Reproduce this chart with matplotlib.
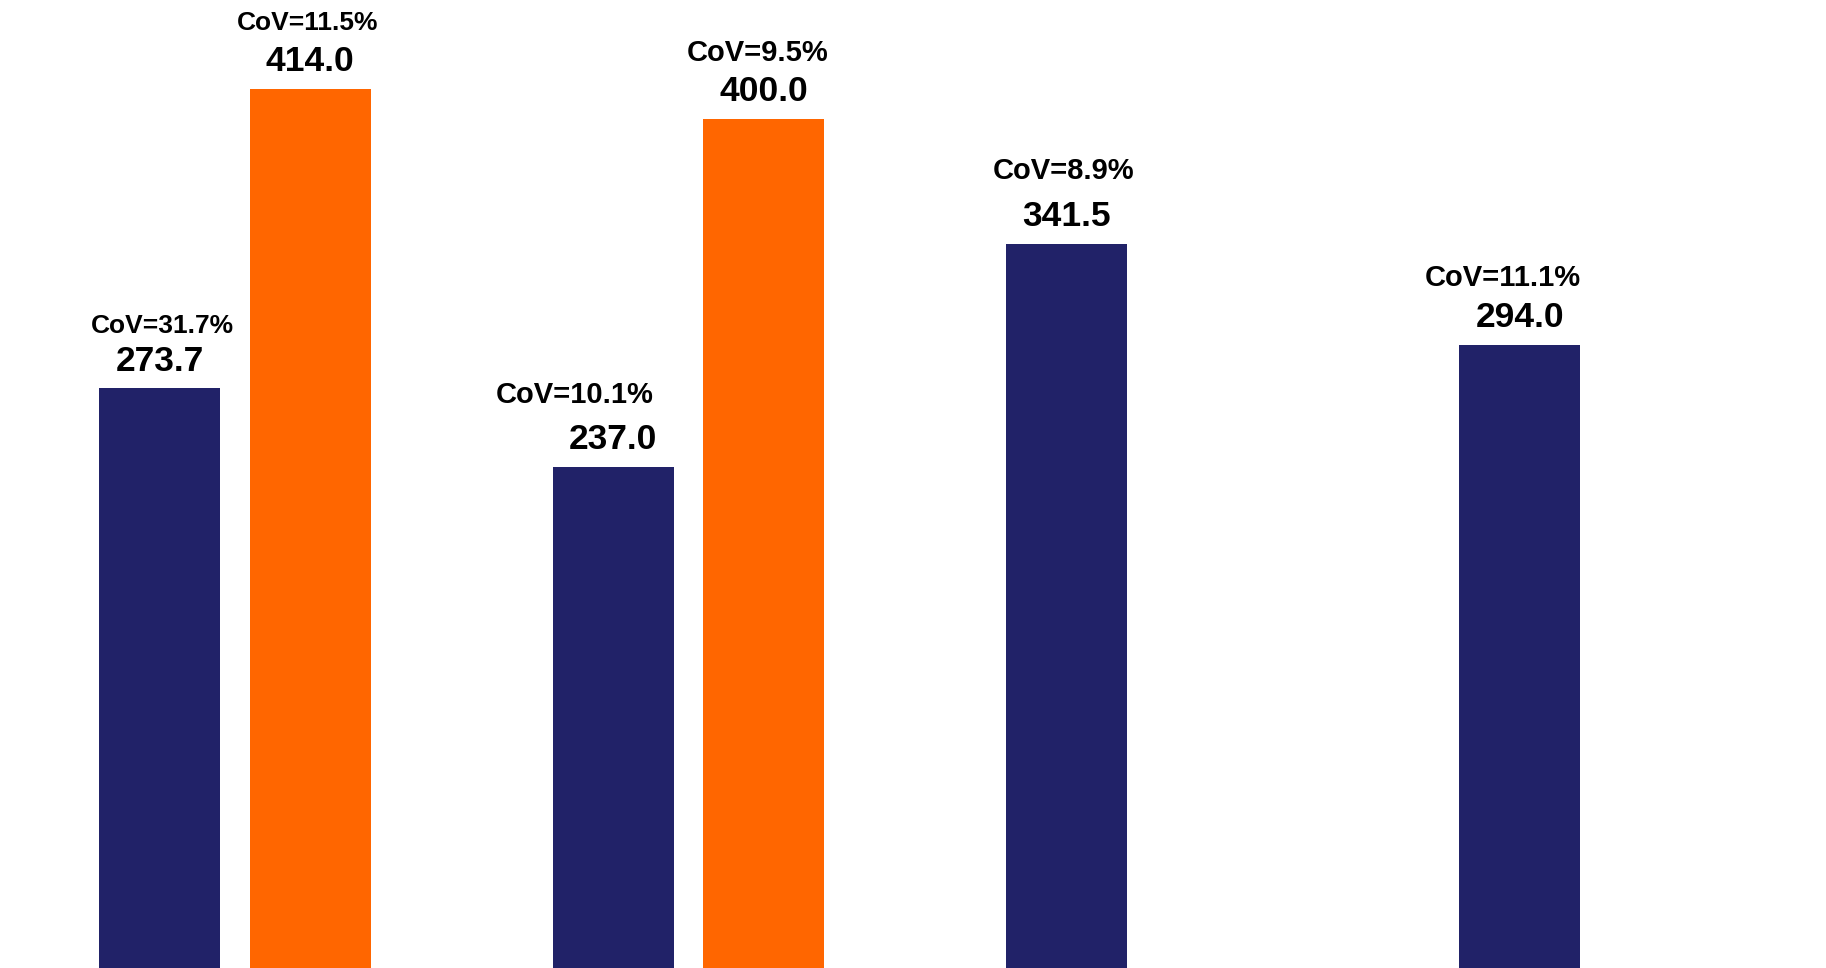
import matplotlib.pyplot as plt
import numpy as np

plt.rcParams['font.family'] = ['Liberation Sans', 'DejaVu Sans']

# data
navy_vals = [273.7, 237.0, 341.5, 294.0]
navy_cov = ['31.7%', '10.1%', '8.9%', '11.1%']
orange_vals = [414.0, 400.0]
orange_cov = ['11.5%', '9.5%']

# label placement tweaks (pixels): cov dx, cov dy, value dy, cov font size
navy_lab = [(3, 62, 27, 19), (-38, 72, 27, 21), (-3, 73, 27, 21), (-17, 67, 27, 21)]
orange_lab = [(-3, 66, 27, 19), (-6, 66, 27, 21)]

navy = '#212268'
orange = '#ff6600'
off = 0.166
w = 0.267

fig = plt.figure(figsize=(18.26, 9.68), dpi=100)
ax = fig.add_axes([0, 0, 1, 1])

xn = np.arange(len(navy_vals)) - off
xo = np.arange(len(orange_vals)) + off
ax.bar(xn, navy_vals, width=w, color=navy)
ax.bar(xo, orange_vals, width=w, color=orange)

def label(x, v, cov, lab):
    dx, dy_cov, dy_val, fs = lab
    ax.annotate(f'{v:.1f}', (x, v), xytext=(0, dy_val), textcoords='offset pixels',
                ha='center', va='center', fontsize=25.5, fontweight='bold')
    ax.annotate(f'CoV={cov}', (x, v), xytext=(dx, dy_cov), textcoords='offset pixels',
                ha='center', va='center', fontsize=fs, fontweight='bold')

for x, v, c, l in zip(xn, navy_vals, navy_cov, navy_lab):
    label(x, v, c, l)
for x, v, c, l in zip(xo, orange_vals, orange_cov, orange_lab):
    label(x, v, c, l)

ax.set_xlim(-0.518, 3.509)
ax.set_ylim(1.9, 455.7)
ax.axis('off')

fig.savefig('out.png', dpi=100)
